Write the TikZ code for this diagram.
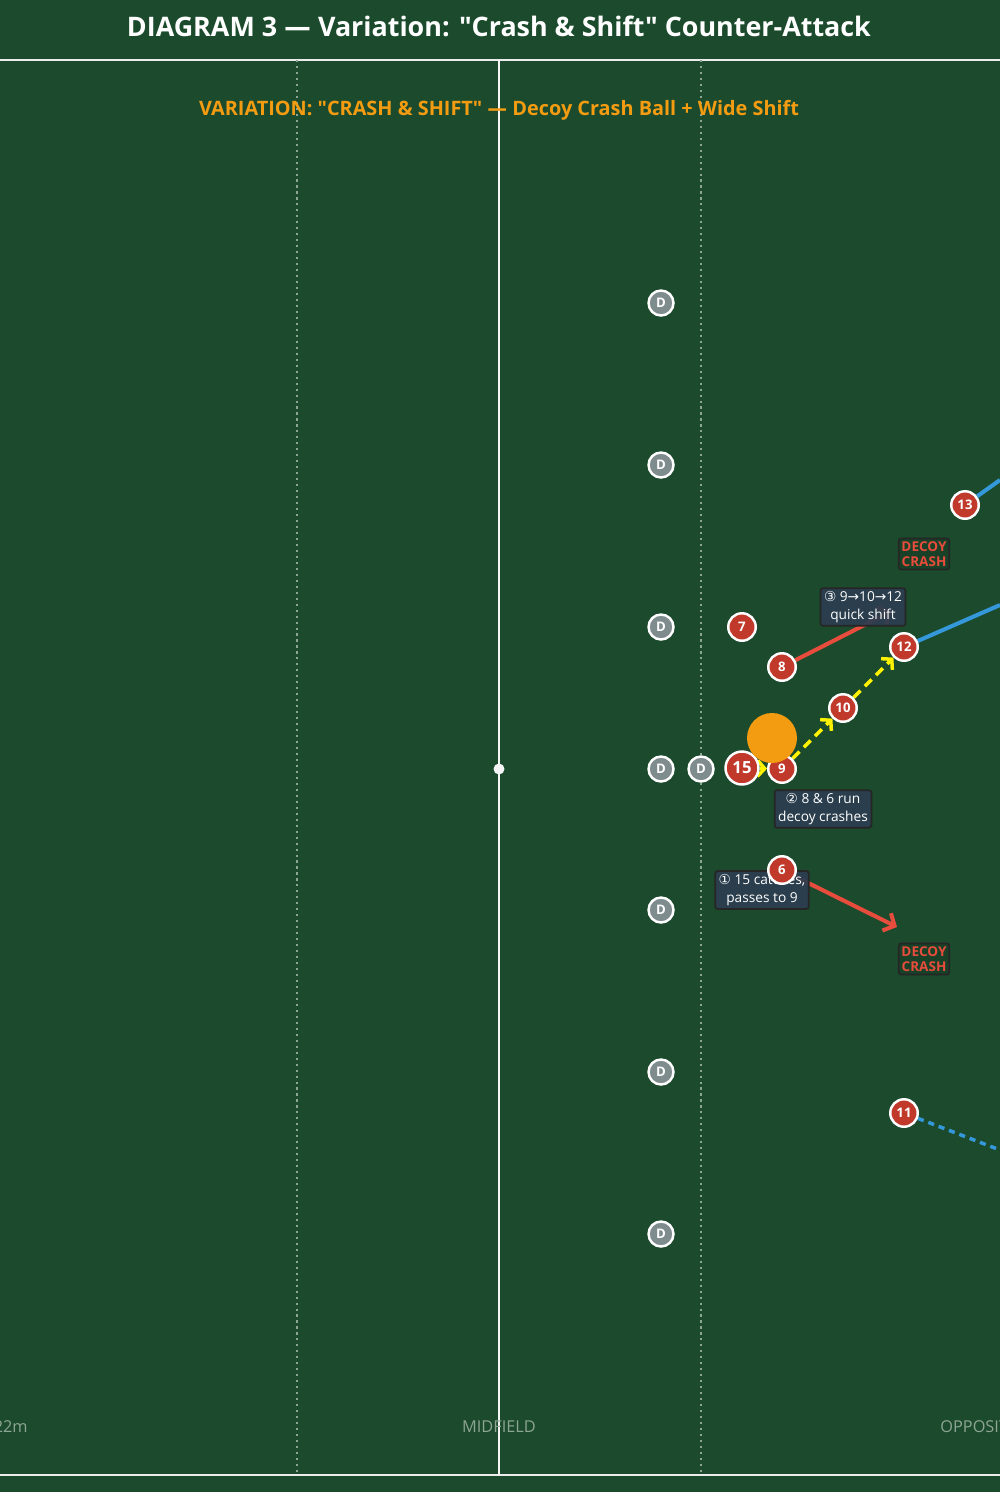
\documentclass[tikz,border=0pt]{standalone}
\usepackage{fontspec}
\setmainfont{Open Sans}[Ligatures=TeXOff]
\newfontfamily\symfont{DejaVu Sans}
\usetikzlibrary{arrows.meta}
\definecolor{pitch}{HTML}{1B4A2C}
\definecolor{plred}{HTML}{C0392B}
\definecolor{defgray}{HTML}{7F8C8D}
\definecolor{ballorange}{HTML}{F39C12}
\definecolor{runblue}{HTML}{3498DB}
\definecolor{crashred}{HTML}{E74C3C}
\definecolor{notebg}{HTML}{2C3E50}
\definecolor{markgray}{HTML}{8DA594}
\pgfdeclarelayer{back}
\pgfdeclarelayer{runs}
\pgfsetlayers{back,runs,main}
\tikzset{
  player/.style={circle, draw=white, line width=1.4pt, fill=plred, text=white,
    font=\fontsize{7.5}{8}\selectfont\bfseries, minimum size=0.55cm, inner sep=0pt},
  bigplayer/.style={player, minimum size=0.66cm, font=\fontsize{9.5}{10}\selectfont\bfseries},
  defender/.style={player, fill=defgray, minimum size=0.5cm},
  note/.style={fill=notebg, fill opacity=0.93, text opacity=1, draw=black!85, line width=1pt,
    rounded corners=1.5pt, text=white, align=center, inner sep=2pt,
    font=\fontsize{7.8}{9.8}\selectfont},
  decoy/.style={fill=pitch!88!black, draw=black!85, line width=1pt, rounded corners=1.5pt,
    text=crashred, align=center, inner sep=1.6pt, font=\fontsize{7.7}{8.9}\selectfont\bfseries},
  pitchlabel/.style={text=markgray, inner sep=0pt, font=\fontsize{9.3}{10}\selectfont},
  run/.style={runblue, line width=2.3pt},
  crash/.style={crashred, line width=2.3pt, ->, >={Straight Barb[length=5pt,width=11pt]}},
  pass/.style={yellow, line width=2pt, dash pattern=on 5.5pt off 3.5pt, ->,
    >={Straight Barb[length=4pt,width=9pt]}}
}
\begin{document}
\begin{tikzpicture}[x=0.02cm, y=-0.02cm]
  \useasboundingbox (0,0) rectangle (1000,1492);
  \begin{pgfonlayer}{back}
    \fill[pitch] (0,0) rectangle (1000,1492);
    \draw[white!85!gray, line width=1.1pt] (0,60) -- (1000,60) (0,1475) -- (1000,1475);
    \draw[markgray, line width=0.9pt, dash pattern=on 1.2pt off 2.2pt] (297,60) -- (297,1475) (701,60) -- (701,1475);
    \draw[white!92!gray, line width=1.6pt] (499,60) -- (499,1475);
    \fill[white!92!gray] (499,769) circle (5.5);
  \end{pgfonlayer}

  \node[text=white, font=\fontsize{15.3}{17}\selectfont\bfseries] (title) at (499,26)
    {DIAGRAM 3 {\symfont —} Variation: "Crash \& Shift" Counter-Attack};
  \node[text=ballorange, font=\fontsize{11.3}{13}\selectfont\bfseries] (subtitle) at (499,110)
    {VARIATION: "CRASH \& SHIFT" {\symfont —} Decoy Crash Ball + Wide Shift};
  \node[pitchlabel, anchor=east] (own) at (28,1427) {22m};
  \node[pitchlabel] (mid) at (499,1427) {MIDFIELD};
  \node[pitchlabel, anchor=west] (opp) at (940,1427) {OPPOSITION};

  \node[note] (step3) at (863,607) {{\symfont ③} 9{\symfont →}10{\symfont →}12\\quick shift};
  \node[note] (step2) at (823,809) {{\symfont ②} 8 \& 6 run\\decoy crashes};
  \node[note] (step1) at (762,890) {{\symfont ①} 15 catches,\\passes to 9};
  \node[decoy] (crash1) at (924,554) {DECOY\\CRASH};
  \node[decoy] (crash2) at (924,959) {DECOY\\CRASH};

  \node[player] (p7) at (742,627) {7};
  \node[player] (p8) at (782,667) {8};
  \node[player] (p9) at (782,769) {9};
  \node[player] (p10) at (843,708) {10};
  \node[player] (p12) at (904,647) {12};
  \node[player] (p13) at (965,505) {13};
  \node[player] (p6) at (782,870) {6};
  \node[player] (p11) at (904,1113) {11};
  \node[bigplayer] (p15) at (742,768) {15};

  \foreach \i/\y in {1/303,2/465,3/627,4/769,5/910,6/1072,7/1234}
    \node[defender] (d\i) at (661,\y) {D};
  \node[defender] (d8) at (701,769) {D};

  \node[circle, fill=ballorange, minimum size=1cm, inner sep=0pt] (ball) at (772,738) {};

  \coordinate (r13) at (1000,480);
  \coordinate (r12) at (1000,605);
  \coordinate (r11) at (1000,1150);
  \coordinate (c8) at (892,611);
  \coordinate (c6) at (897,927);

  \begin{pgfonlayer}{runs}
    \draw[run] (p13) -- (r13);
    \draw[run] (p12) -- (r12);
    \draw[run, line width=2pt, dash pattern=on 3.5pt off 2.8pt] (p11) -- (r11);
    \draw[crash] (p8) -- (c8);
    \draw[crash] (p6) -- (c6);
    \draw[pass] (p15) -- (p9);
    \draw[pass] (p9) -- (p10);
    \draw[pass] (p10) -- (p12);
  \end{pgfonlayer}
\end{tikzpicture}
\end{document}
